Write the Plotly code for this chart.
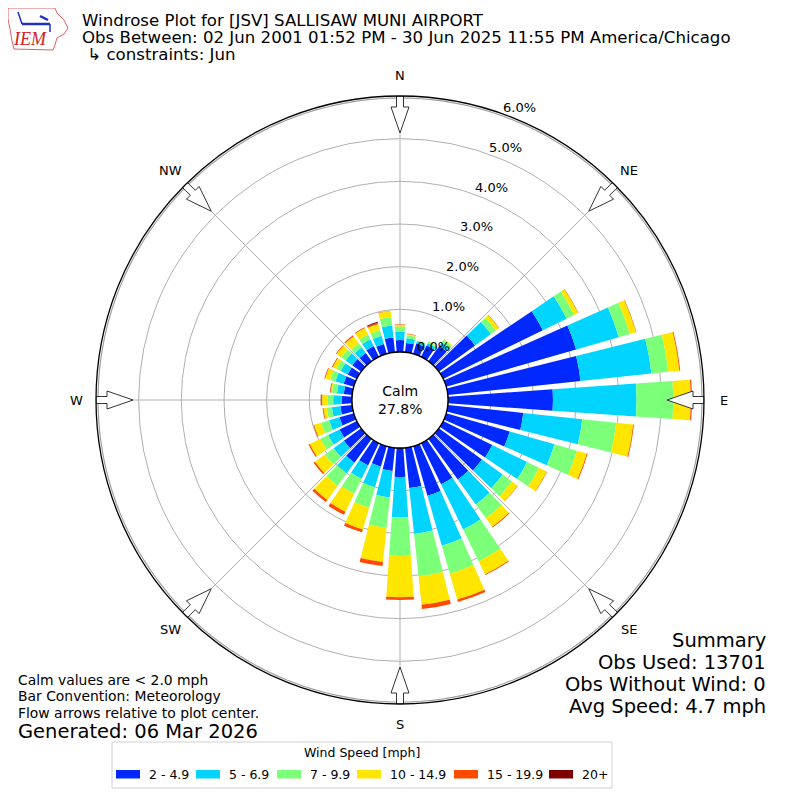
import numpy as np
import plotly.graph_objects as go

# direction bins (deg, meteorological) and percent of obs per speed bin
directions = list(range(0, 360, 10))
speed_bins = ["2 - 4.9", "5 - 6.9", "7 - 9.9", "10 - 14.9", "15 - 19.9", "20+"]
colors = ["#0028ff", "#00d4ff", "#7cff79", "#ffe600", "#ff4a00", "#7f0000"]

pct_2_5 = [0.28, 0.22, 0.25, 0.30, 0.45, 1.05, 2.60, 3.17, 3.13, 2.46, 1.78, 1.55,
           1.28, 1.25, 1.18, 1.07, 1.21, 0.95, 0.68, 0.55, 0.50, 0.58, 0.69, 0.50,
           0.45, 0.35, 0.28, 0.24, 0.20, 0.25, 0.24, 0.26, 0.24, 0.28, 0.24, 0.35]
pct_5_7 = [0.20, 0.11, 0.05, 0.06, 0.10, 0.46, 0.62, 1.04, 1.67, 1.96, 1.39, 1.09,
           0.91, 0.60, 0.72, 1.18, 1.22, 1.08, 0.95, 0.62, 0.50, 0.35, 0.31, 0.30,
           0.30, 0.25, 0.20, 0.20, 0.16, 0.20, 0.18, 0.19, 0.16, 0.18, 0.20, 0.28]
pct_7_10 = [0.12, 0.07, 0.03, 0.04, 0.07, 0.14, 0.20, 0.27, 0.40, 0.86, 0.80, 0.55,
            0.31, 0.27, 0.40, 0.83, 0.68, 1.00, 0.90, 0.72, 0.50, 0.39, 0.36, 0.25,
            0.20, 0.20, 0.12, 0.14, 0.12, 0.13, 0.11, 0.13, 0.12, 0.12, 0.14, 0.20]
pct_10_15 = [0.04, 0.03, 0.01, 0.01, 0.02, 0.09, 0.10, 0.15, 0.26, 0.41, 0.40, 0.24,
             0.20, 0.16, 0.25, 0.34, 0.63, 0.67, 0.97, 0.80, 0.53, 0.47, 0.41, 0.29,
             0.28, 0.17, 0.08, 0.12, 0.03, 0.12, 0.10, 0.13, 0.20, 0.17, 0.15, 0.14]
pct_15_20 = [0.01, 0.01, 0.0, 0.0, 0.0, 0.01, 0.01, 0.01, 0.02, 0.03, 0.02, 0.02,
             0.01, 0.01, 0.02, 0.02, 0.06, 0.10, 0.06, 0.10, 0.07, 0.08, 0.06, 0.04,
             0.03, 0.02, 0.02, 0.03, 0.02, 0.02, 0.02, 0.02, 0.03, 0.02, 0.03, 0.01]
pct_20 = [0.0] * 27 + [0.005] + [0.0] * 6 + [0.02, 0.0]

radial_ticks = [0, 1, 2, 3, 4, 5, 6]
compass = ["N", "NE", "E", "SE", "S", "SW", "W", "NW"]
compass_deg = [0, 45, 90, 135, 180, 225, 270, 315]

calm_pct = 27.8
summary = ["Summary", "Obs Used: 13701", "Obs Without Wind: 0", "Avg Speed: 4.7 mph"]

FONT = "DejaVu Sans"
OFF = 8          # page body margin
CX, CY = 400, 400
R_OUT = 304.0    # px, outer circle
R_HOLE = 48.0    # px, calm circle
RMAX = 6.0
PXU = (R_OUT - R_HOLE) / RMAX


def px(x):
    return (x - OFF) / 800


def py(y):
    return 1 - (y - OFF) / 800


def polar_px(deg, rho):
    a = np.radians(deg)
    return CX + rho * np.sin(a), CY - rho * np.cos(a)


def text(x, y, s, size, xa="center", color="black", family=FONT):
    fig.add_annotation(x=px(x), y=py(y), xref="paper", yref="paper", text=s,
                       showarrow=False, xanchor=xa, yanchor="middle",
                       font=dict(family=family, size=size, color=color))


fig = go.Figure()

series = [pct_2_5, pct_5_7, pct_7_10, pct_10_15, pct_15_20, pct_20]
for name, col, vals in zip(speed_bins, colors, series):
    fig.add_trace(go.Barpolar(r=vals, theta=directions, width=8, name=name,
                              marker=dict(color=col, line=dict(width=0)),
                              showlegend=False, hoverinfo="skip"))

circ = np.linspace(0, 360, 181)
# calm circle outline and inner grey rim line
fig.add_trace(go.Scatterpolar(r=[0] * len(circ), theta=circ, mode="lines",
                              line=dict(color="black", width=1.3),
                              showlegend=False, hoverinfo="skip"))
fig.add_trace(go.Scatterpolar(r=[RMAX - 2 / PXU] * len(circ), theta=circ, mode="lines",
                              line=dict(color="#a0a0a0", width=1.2),
                              showlegend=False, hoverinfo="skip"))


# flow arrows at the rim, pointing to centre
def arrow(deg):
    pts = [(304, -3.5), (293, -3.5), (293, -9), (267, 0), (293, 9), (293, 3.5),
           (304, 3.5), (304, -3.5)]
    a = np.radians(deg)
    rr, tt = [], []
    for rho, v in pts:
        x = rho * np.sin(a) + v * np.cos(a)
        y = rho * np.cos(a) - v * np.sin(a)
        rr.append((np.hypot(x, y) - R_HOLE) / PXU)
        tt.append(np.degrees(np.arctan2(x, y)))
    return rr, tt


for d in compass_deg:
    rr, tt = arrow(d)
    fig.add_trace(go.Scatterpolar(r=rr, theta=tt, mode="lines", fill="toself",
                                  fillcolor="white", line=dict(color="#333333", width=1),
                                  showlegend=False, hoverinfo="skip"))

fig.update_layout(
    width=800, height=800,
    margin=dict(l=0, r=0, t=0, b=0),
    paper_bgcolor="white",
    showlegend=False,
    font=dict(family=FONT, size=13, color="black"),
    polar=dict(
        domain=dict(x=[px(CX - R_OUT), px(CX + R_OUT)], y=[py(CY + R_OUT), py(CY - R_OUT)]),
        hole=R_HOLE / R_OUT,
        bgcolor="white",
        barmode="stack",
        radialaxis=dict(range=[0, RMAX], tickvals=[1, 2, 3, 4, 5], showticklabels=False,
                        ticks="", showline=False, gridcolor="#b0b0b0", gridwidth=1),
        angularaxis=dict(rotation=90, direction="clockwise", tickvals=compass_deg,
                         showticklabels=False, ticks="", showline=True, linecolor="black",
                         linewidth=1.3, gridcolor="#b0b0b0", gridwidth=1),
    ),
)

# compass labels
for lab, d in zip(compass, compass_deg):
    x, y = polar_px(d, 324)
    text(x, y, lab, 13)

# radial percent labels
for t in radial_ticks:
    x, y = polar_px(19.8, R_HOLE + 42.2 * t)
    text(x + 17.7, y - 8.8, "%.1f%%" % t, 13)

title_lines = ["Windrose Plot for [JSV] SALLISAW MUNI AIRPORT",
               "Obs Between: 02 Jun 2001 01:52 PM - 30 Jun 2025 11:55 PM America/Chicago",
               " \u21b3 constraints: Jun"]
for i, line in enumerate(title_lines):
    text(80, 20 + 17.5 * i, line, 16.6, xa="left")

# IEM logo stand-in
iowa = [(8, 8), (55, 8), (57, 13), (64, 20), (68, 28), (64, 34), (57, 38), (55, 45),
        (53, 50), (14, 49), (12, 41), (10, 29), (8, 19)]
path = "M " + " L ".join("%.4f %.4f" % (px(a), py(b)) for a, b in iowa) + " Z"
fig.add_shape(type="path", path=path, xref="paper", yref="paper",
              line=dict(color="#e06060", width=1))
fig.add_shape(type="line", x0=px(22), y0=py(24), x1=px(50), y1=py(24), xref="paper",
              yref="paper", line=dict(color="#2030c0", width=2.5))
fig.add_shape(type="line", x0=px(40), y0=py(16), x1=px(48), y1=py(20), xref="paper",
              yref="paper", line=dict(color="#2030c0", width=2.5))
fig.add_shape(type="line", x0=px(18), y0=py(12), x1=px(22), y1=py(24), xref="paper",
              yref="paper", line=dict(color="#2030c0", width=1.5))
fig.add_shape(type="line", x0=px(50), y0=py(24), x1=px(50), y1=py(32), xref="paper",
              yref="paper", line=dict(color="#2030c0", width=1.5))
text(30, 39, "<i>IEM</i>", 18, color="#d42020", family="Liberation Serif")

text(CX, CY, "Calm<br>%.1f%%" % calm_pct, 14)

notes = ["Calm values are < 2.0 mph", "Bar Convention: Meteorology",
         "Flow arrows relative to plot center."]
for i, line in enumerate(notes):
    text(16, 680 + 16.3 * i, line, 13.9, xa="left")
text(16, 731, "Generated: 06 Mar 2026", 19.5, xa="left")

for i, line in enumerate(summary):
    text(768, 640 + 22 * i, line, 19.5, xa="right")

# legend box built by hand (wide swatches like the original)
fig.add_shape(type="rect", x0=px(112), x1=px(612), y0=py(742), y1=py(788), xref="paper",
              yref="paper", line=dict(color="#d0d0d0", width=1), fillcolor="white")
text(362, 752, "Wind Speed [mph]", 12.5)
swatch_x = [116, 196, 277, 357, 454, 549]
for sx, col, name in zip(swatch_x, colors, speed_bins):
    fig.add_shape(type="rect", x0=px(sx), x1=px(sx + 24), y0=py(770), y1=py(778.5),
                  xref="paper", yref="paper", line=dict(width=0), fillcolor=col)
    text(sx + 31, 774, name, 12.5, xa="left")

fig.write_html("out.html")
